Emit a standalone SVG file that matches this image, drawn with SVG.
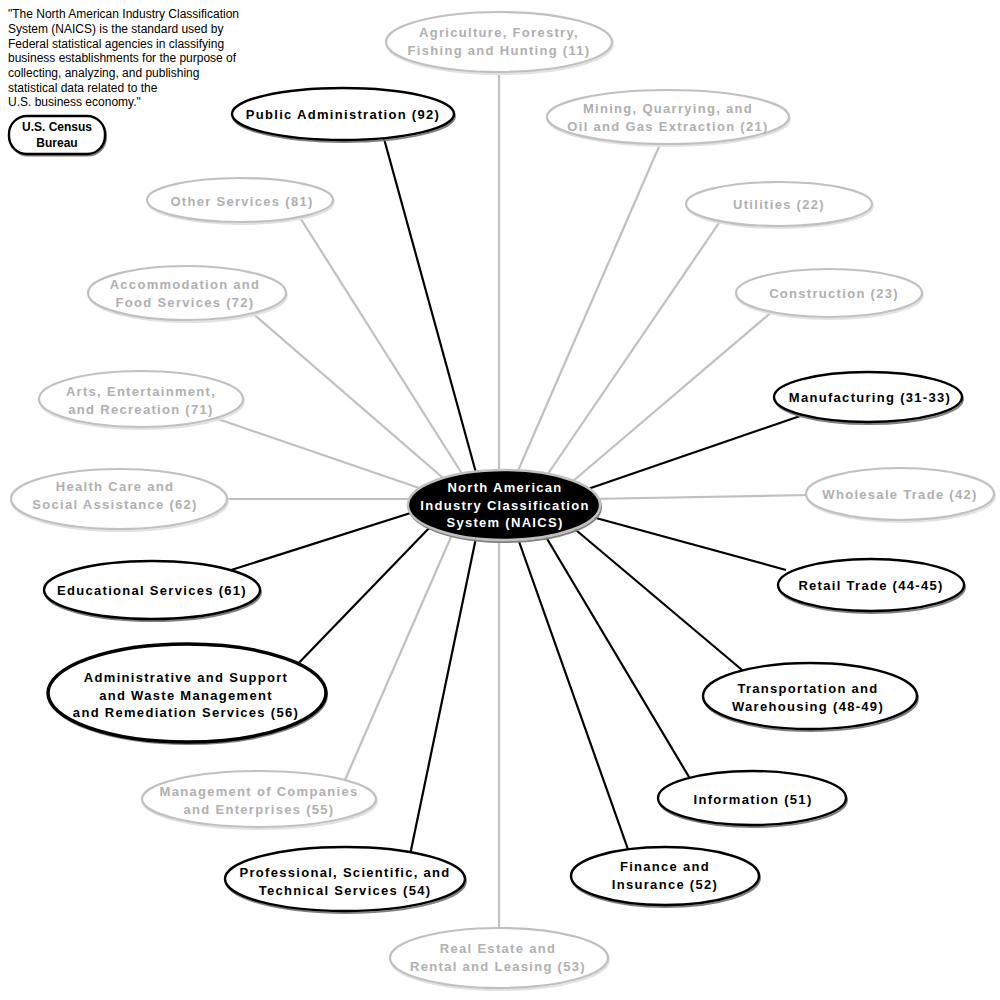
<svg xmlns="http://www.w3.org/2000/svg" width="1000" height="1000" viewBox="0 0 1000 1000">
<style>
  .bg{fill:#ffffff}
  .lg{stroke:#c0c0c0;stroke-width:2.2;fill:none}
  .lb{stroke:#000000;stroke-width:2.2;fill:none}
  .eg{fill:#ffffff;stroke:#c0c0c0;stroke-width:2.2}
  .eb{fill:#ffffff;stroke:#000000;stroke-width:2.4}
  .sg{fill:none;stroke:#e2e2e2;stroke-width:2}
  .sb{fill:none;stroke:#808080;stroke-width:2}
  .tg{font-family:"Liberation Sans",Arial,sans-serif;font-weight:bold;font-size:13px;letter-spacing:1.3px;fill:#b0b0b0;text-anchor:middle}
  .tb{font-family:"Liberation Sans",Arial,sans-serif;font-weight:bold;font-size:13px;letter-spacing:1.3px;fill:#000000;text-anchor:middle}
  .tw{font-family:"Liberation Sans",Arial,sans-serif;font-weight:bold;font-size:13px;letter-spacing:1.3px;fill:#ffffff;text-anchor:middle}
  .q{font-family:"Liberation Sans",Arial,sans-serif;font-size:12px;fill:#000000}
</style>
<rect class="bg" x="0" y="0" width="1000" height="1000"/>

<g id="connectors">
  <line class="lg" x1="499" y1="480" x2="499" y2="65"/>
  <line class="lg" x1="514" y1="480" x2="661" y2="142"/>
  <line class="lg" x1="541" y1="484" x2="721" y2="220"/>
  <line class="lg" x1="566" y1="487" x2="774" y2="310"/>
  <line class="lb" x1="585" y1="490" x2="806" y2="414"/>
  <line class="lg" x1="590" y1="499" x2="812" y2="495"/>
  <line class="lb" x1="585" y1="515" x2="786" y2="570"/>
  <line class="lb" x1="570" y1="525" x2="748" y2="675"/>
  <line class="lb" x1="543" y1="532" x2="692" y2="782"/>
  <line class="lb" x1="516" y1="533" x2="630" y2="855"/>
  <line class="lg" x1="499" y1="533" x2="499" y2="935"/>
  <line class="lb" x1="477" y1="533" x2="410" y2="855"/>
  <line class="lg" x1="454" y1="530" x2="345" y2="780"/>
  <line class="lb" x1="433" y1="524" x2="292" y2="670"/>
  <line class="lb" x1="420" y1="510" x2="228" y2="571"/>
  <line class="lg" x1="420" y1="499" x2="220" y2="499"/>
  <line class="lg" x1="425" y1="490" x2="215" y2="418"/>
  <line class="lg" x1="450" y1="484" x2="250" y2="311"/>
  <line class="lg" x1="466" y1="480" x2="299" y2="216"/>
  <line class="lb" x1="478" y1="480" x2="383" y2="135"/>
</g>

<g id="quote">
  <text class="q" x="8" y="18">"The North American Industry Classification</text>
  <text class="q" x="8" y="33">System (NAICS) is the standard used by</text>
  <text class="q" x="8" y="48">Federal statistical agencies in classifying</text>
  <text class="q" x="8" y="62">business establishments for the purpose of</text>
  <text class="q" x="8" y="77">collecting, analyzing, and publishing</text>
  <text class="q" x="8" y="92">statistical data related to the</text>
  <text class="q" x="8" y="106">U.S. business economy."</text>
</g>

<g id="census">
  <rect x="10" y="117.5" width="96" height="38" rx="18" ry="18" class="sb"/>
  <rect x="9" y="116" width="96" height="38" rx="18" ry="18" class="eb"/>
  <text class="tb" x="57" y="131" style="font-size:12px;letter-spacing:0">U.S. Census</text>
  <text class="tb" x="57" y="147" style="font-size:12px;letter-spacing:0">Bureau</text>
</g>

<g id="n11">
  <ellipse class="sg" cx="500" cy="44" rx="113" ry="30"/>
  <ellipse class="eg" cx="499" cy="42" rx="113" ry="30"/>
  <text class="tg" x="499" y="37">Agriculture, Forestry,</text>
  <text class="tg" x="499" y="55">Fishing and Hunting (11)</text>
</g>
<g id="n21">
  <ellipse class="sg" cx="669" cy="119" rx="121" ry="27"/>
  <ellipse class="eg" cx="668" cy="117" rx="121" ry="27"/>
  <text class="tg" x="668" y="113">Mining, Quarrying, and</text>
  <text class="tg" x="668" y="131">Oil and Gas Extraction (21)</text>
</g>
<g id="n22">
  <ellipse class="sg" cx="780" cy="206" rx="93" ry="22"/>
  <ellipse class="eg" cx="779" cy="204" rx="93" ry="22"/>
  <text class="tg" x="779" y="209">Utilities (22)</text>
</g>
<g id="n23">
  <ellipse class="sg" cx="830" cy="295" rx="93" ry="24"/>
  <ellipse class="eg" cx="829" cy="293" rx="93" ry="24"/>
  <text class="tg" x="834" y="298">Construction (23)</text>
</g>
<g id="n31">
  <ellipse class="sb" cx="869" cy="399" rx="94" ry="25"/>
  <ellipse class="eb" cx="868" cy="397" rx="94" ry="25"/>
  <text class="tb" x="870" y="402">Manufacturing (31-33)</text>
</g>
<g id="n42">
  <ellipse class="sg" cx="901" cy="496" rx="94" ry="26"/>
  <ellipse class="eg" cx="900" cy="494" rx="94" ry="26"/>
  <text class="tg" x="900" y="499">Wholesale Trade (42)</text>
</g>
<g id="n44">
  <ellipse class="sb" cx="872" cy="587" rx="93" ry="26"/>
  <ellipse class="eb" cx="871" cy="585" rx="93" ry="26"/>
  <text class="tb" x="871" y="590">Retail Trade (44-45)</text>
</g>
<g id="n48">
  <ellipse class="sb" cx="811" cy="698" rx="107" ry="33"/>
  <ellipse class="eb" cx="810" cy="696" rx="107" ry="33"/>
  <text class="tb" x="808" y="693">Transportation and</text>
  <text class="tb" x="808" y="711">Warehousing (48-49)</text>
</g>
<g id="n51">
  <ellipse class="sb" cx="753" cy="800" rx="94" ry="27"/>
  <ellipse class="eb" cx="752" cy="798" rx="94" ry="27"/>
  <text class="tb" x="753" y="804">Information (51)</text>
</g>
<g id="n52">
  <ellipse class="sb" cx="666" cy="878" rx="94" ry="29"/>
  <ellipse class="eb" cx="665" cy="876" rx="94" ry="29"/>
  <text class="tb" x="665" y="871">Finance and</text>
  <text class="tb" x="665" y="889">Insurance (52)</text>
</g>
<g id="n53">
  <ellipse class="sg" cx="500" cy="960" rx="109" ry="30"/>
  <ellipse class="eg" cx="499" cy="958" rx="109" ry="30"/>
  <text class="tg" x="498" y="953">Real Estate and</text>
  <text class="tg" x="498" y="971">Rental and Leasing (53)</text>
</g>
<g id="n54">
  <ellipse class="sb" cx="346" cy="881" rx="120" ry="32"/>
  <ellipse class="eb" cx="345" cy="879" rx="120" ry="32"/>
  <text class="tb" x="345" y="877">Professional, Scientific, and</text>
  <text class="tb" x="345" y="895">Technical Services (54)</text>
</g>
<g id="n55">
  <ellipse class="sg" cx="260" cy="801" rx="117" ry="28"/>
  <ellipse class="eg" cx="259" cy="799" rx="117" ry="28"/>
  <text class="tg" x="259" y="796">Management of Companies</text>
  <text class="tg" x="259" y="814">and Enterprises (55)</text>
</g>
<g id="n56">
  <ellipse class="sb" cx="188" cy="695" rx="139" ry="49"/>
  <ellipse class="eb" cx="187" cy="693" rx="139" ry="49" style="stroke-width:3.5"/>
  <text class="tb" x="186" y="682">Administrative and Support</text>
  <text class="tb" x="186" y="700">and Waste Management</text>
  <text class="tb" x="186" y="717">and Remediation Services (56)</text>
</g>
<g id="n61">
  <ellipse class="sb" cx="153" cy="592" rx="108" ry="29"/>
  <ellipse class="eb" cx="152" cy="590" rx="108" ry="29"/>
  <text class="tb" x="152" y="595">Educational Services (61)</text>
</g>
<g id="n62">
  <ellipse class="sg" cx="120" cy="501" rx="108" ry="30"/>
  <ellipse class="eg" cx="119" cy="499" rx="108" ry="30"/>
  <text class="tg" x="115" y="491">Health Care and</text>
  <text class="tg" x="115" y="509">Social Assistance (62)</text>
</g>
<g id="n71">
  <ellipse class="sg" cx="142" cy="401" rx="102" ry="28"/>
  <ellipse class="eg" cx="141" cy="399" rx="102" ry="28"/>
  <text class="tg" x="141" y="396">Arts, Entertainment,</text>
  <text class="tg" x="141" y="414">and Recreation (71)</text>
</g>
<g id="n72">
  <ellipse class="sg" cx="188" cy="295" rx="99" ry="27"/>
  <ellipse class="eg" cx="187" cy="293" rx="99" ry="27"/>
  <text class="tg" x="185" y="289">Accommodation and</text>
  <text class="tg" x="185" y="307">Food Services (72)</text>
</g>
<g id="n81">
  <ellipse class="sg" cx="241" cy="202" rx="93" ry="22"/>
  <ellipse class="eg" cx="240" cy="200" rx="93" ry="22"/>
  <text class="tg" x="242" y="206">Other Services (81)</text>
</g>
<g id="n92">
  <ellipse class="sb" cx="344" cy="116" rx="111" ry="26"/>
  <ellipse class="eb" cx="343" cy="114" rx="111" ry="26"/>
  <text class="tb" x="343" y="119">Public Administration (92)</text>
</g>
<g id="naics">
  <ellipse cx="505" cy="507" rx="96" ry="35" style="fill:none;stroke:#808080;stroke-width:2"/>
  <ellipse cx="504" cy="505" rx="96" ry="35" style="fill:#000000;stroke:#c0c0c0;stroke-width:2.4"/>
  <text class="tw" x="505" y="492">North American</text>
  <text class="tw" x="505" y="510">Industry Classification</text>
  <text class="tw" x="505" y="527">System (NAICS)</text>
</g>
</svg>
